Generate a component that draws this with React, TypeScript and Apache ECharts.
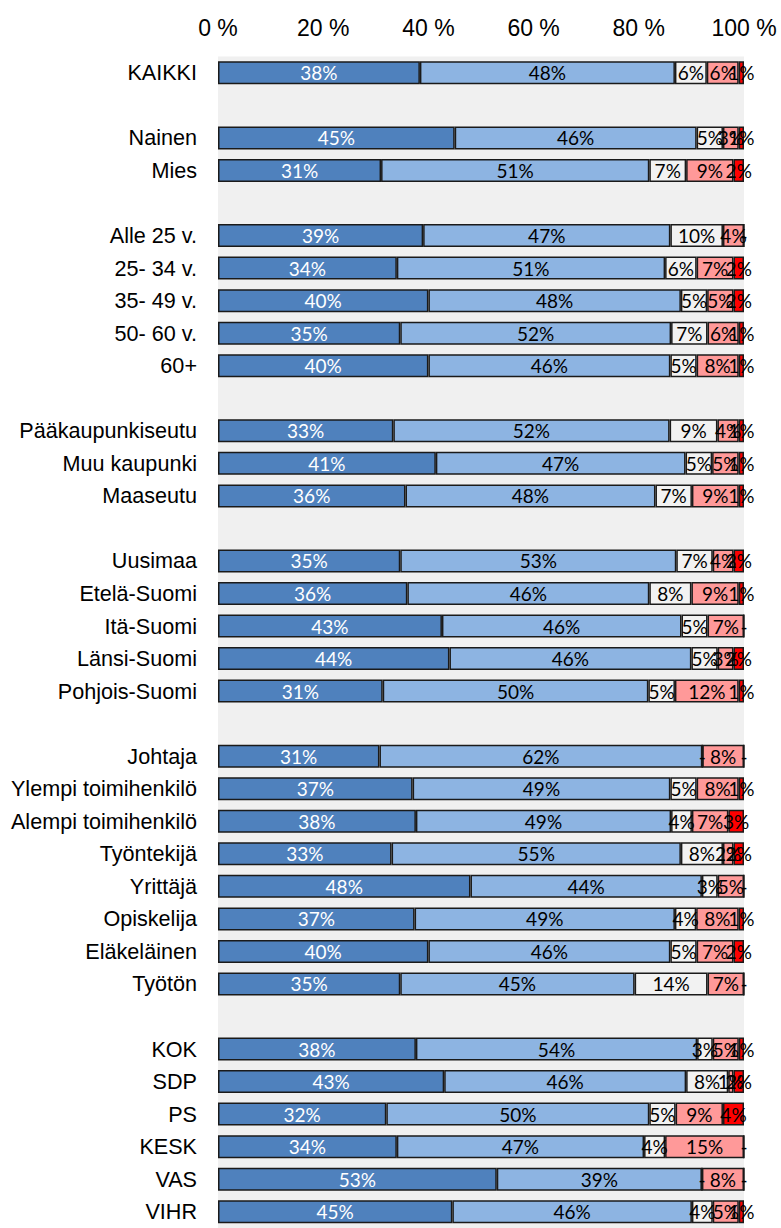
import React, { useEffect, useRef } from "react";
import * as echarts from "echarts";

const categories = [
  "KAIKKI", " ", "Nainen", "Mies", "  ",
  "Alle 25 v.", "25- 34 v.", "35- 49 v.", "50- 60 v.", "60+", "   ",
  "Pääkaupunkiseutu", "Muu kaupunki", "Maaseutu", "    ",
  "Uusimaa", "Etelä-Suomi", "Itä-Suomi", "Länsi-Suomi", "Pohjois-Suomi", "     ",
  "Johtaja", "Ylempi toimihenkilö", "Alempi toimihenkilö", "Työntekijä", "Yrittäjä", "Opiskelija", "Eläkeläinen", "Työtön", "      ",
  "KOK", "SDP", "PS", "KESK", "VAS", "VIHR",
];

const seg1 = [38, null, 45, 31, null, 39, 34, 40, 35, 40, null, 33, 41, 36, null, 35, 36, 43, 44, 31, null, 31, 37, 38, 33, 48, 37, 40, 35, null, 38, 43, 32, 34, 53, 45];
const seg2 = [48, null, 46, 51, null, 47, 51, 48, 52, 46, null, 52, 47, 48, null, 53, 46, 46, 46, 50, null, 62, 49, 49, 55, 44, 49, 46, 45, null, 54, 46, 50, 47, 39, 46];
const seg3 = [6, null, 5, 7, null, 10, 6, 5, 7, 5, null, 9, 5, 7, null, 7, 8, 5, 5, 5, null, 0, 5, 4, 8, 3, 4, 5, 14, null, 3, 8, 5, 4, 0, 4];
const seg4 = [6, null, 3, 9, null, 4, 7, 5, 6, 8, null, 4, 5, 9, null, 4, 9, 7, 3, 12, null, 8, 8, 7, 2, 5, 8, 7, 7, null, 5, 1, 9, 15, 8, 5];
const seg5 = [1, null, 1, 2, null, 0, 2, 2, 1, 1, null, 1, 1, 1, null, 2, 1, 0, 2, 1, null, 0, 1, 3, 2, 0, 1, 2, 0, null, 1, 2, 4, 0, 0, 1];

const xTicks = [0, 20, 40, 60, 80, 100];

const segments = [seg1, seg2, seg3, seg4, seg5];
const colors = ["#4f81bd", "#8db4e2", "#f2f2f2", "#ff9999", "#ff0000"];
const labelColors = ["#ffffff", "#000000", "#000000", "#000000", "#000000"];

export default function App() {
  const ref = useRef<HTMLDivElement>(null);

  useEffect(() => {
    if (!ref.current) return;
    const chart = echarts.init(ref.current, undefined, { renderer: "svg" });

    const rowTotals = categories.map((_, i) =>
      segments.reduce((s, arr) => s + (arr[i] == null ? 0 : (arr[i] as number)), 0)
    );

    const series = segments.map((arr, si) => ({
      type: "bar",
      stack: "total",
      barWidth: 23,
      data: arr.map((v, i) => (v == null ? null : ((v as number) / rowTotals[i]) * 100)),
      itemStyle: { color: colors[si], borderColor: "#1a1a1a", borderWidth: 1.5 },
      label: {
        show: true,
        position: "inside",
        color: labelColors[si],
        fontFamily: "Lato",
        fontSize: 19,
        formatter: (p: any) => {
          const raw = arr[p.dataIndex];
          if (raw == null) return "";
          return raw === 0 ? "-" : raw + "%";
        },
      },
      emphasis: { disabled: true },
    }));

    const top = 56.6;
    const bandH = 32.743;

    chart.setOption({
      animation: false,
      backgroundColor: "#ffffff",
      grid: {
        left: 218,
        right: 37,
        top: top,
        height: bandH * categories.length,
        show: true,
        backgroundColor: "#f0f0f0",
        borderWidth: 0,
        containLabel: false,
      },
      xAxis: {
        type: "value",
        position: "top",
        min: xTicks[0],
        max: xTicks[xTicks.length - 1],
        interval: 20,
        axisLine: { show: false },
        axisTick: { show: false },
        splitLine: { show: false },
        axisLabel: {
          formatter: "{value} %",
          color: "#000",
          fontFamily: "Liberation Sans",
          fontSize: 23,
          margin: 17,
        },
      },
      yAxis: {
        type: "category",
        inverse: true,
        data: categories,
        axisLine: { show: false },
        axisTick: { show: false },
        splitLine: { show: false },
        axisLabel: {
          color: "#000",
          fontFamily: "Liberation Sans",
          fontSize: 21.6,
          margin: 21,
          interval: 0,
        },
      },
      series,
    });

    return () => chart.dispose();
  }, []);

  return (
    <div
      ref={ref}
      style={{ position: "fixed", left: 0, top: 0, width: 781, height: 1228, overflow: "hidden" }}
    />
  );
}
